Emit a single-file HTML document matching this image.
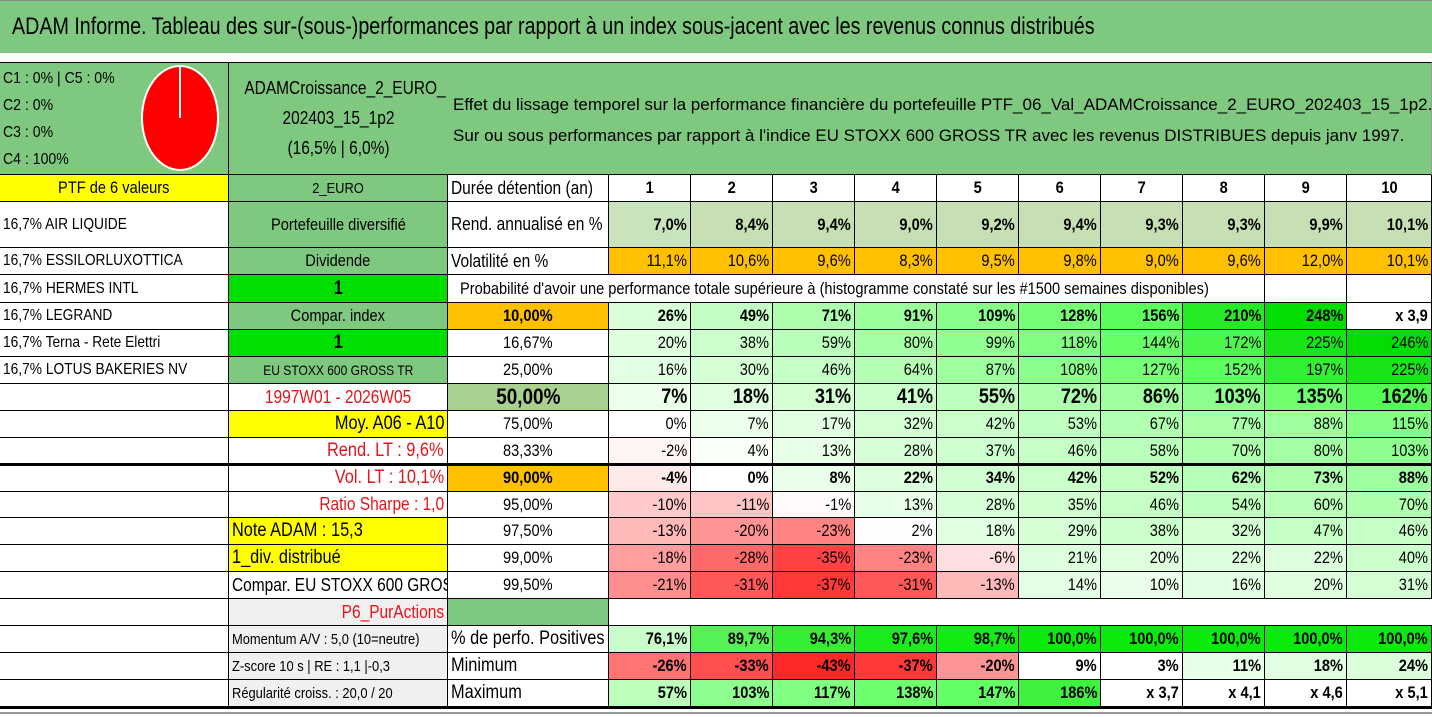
<!DOCTYPE html>
<html><head><meta charset="utf-8">
<style>
html,body{margin:0;padding:0;background:#fff;}
body{width:1432px;height:717px;position:relative;overflow:hidden;font-family:"Liberation Sans Narrow","Liberation Sans",sans-serif;color:#000;}
.c{position:absolute;box-sizing:border-box;border-right:1px solid #000;border-bottom:1px solid #000;display:flex;align-items:center;white-space:nowrap;overflow:hidden;font-size:17px;padding:0 3px;}
.r{justify-content:flex-end;}
.m{justify-content:center;}
.l{justify-content:flex-start;}
.b{font-weight:bold;}
.red{color:#e8141c;}
.s{display:inline-block;transform:scaleX(0.86);}
.r .s{transform-origin:right center;}
.m .s{transform-origin:center center;}
.l .s{transform-origin:left center;}
</style></head><body>
<div style="position:absolute;left:0;top:0;width:1432px;height:53px;background:#7fc87f;border-top:1px solid #888;box-sizing:border-box;display:flex;align-items:center;padding-left:12px;font-size:24px;">
<span style="display:inline-block;transform:scaleX(0.82);transform-origin:left center;">ADAM Informe. Tableau des sur-(sous-)performances par rapport à un index sous-jacent avec les revenus connus distribués</span></div>
<div style="position:absolute;left:0;top:62px;width:229px;height:113px;background:#7fc87f;border-top:1px solid #000;border-right:1px solid #000;border-bottom:1px solid #000;box-sizing:border-box;font-size:16px;line-height:27px;padding:2px 0 0 3px;">
<div style="transform:scaleX(0.88);transform-origin:left top;">C1 : 0% | C5 : 0%<br>C2 : 0%<br>C3 : 0%<br>C4 : 100%</div></div>
<svg style="position:absolute;left:140px;top:64px" width="80" height="110"><ellipse cx="40" cy="54" rx="38" ry="52" fill="#ff0000" stroke="#fff" stroke-width="2"/><line x1="40" y1="3" x2="40" y2="54" stroke="#fff" stroke-width="2"/></svg>
<div style="position:absolute;left:229px;top:62px;width:220px;height:113px;background:#7fc87f;border-top:1px solid #000;border-right:1px solid #000;border-bottom:1px solid #000;box-sizing:border-box;font-size:18px;line-height:30px;text-align:center;padding-top:10px;"><div style="transform:scaleX(0.86);">ADAMCroissance_2_EURO_<br>202403_15_1p2<br>(16,5% | 6,0%)</div></div>
<div style="position:absolute;left:448px;top:62px;width:984px;height:113px;background:#7fc87f;border-top:1px solid #000;border-bottom:1px solid #000;border-right:1px solid #999;box-sizing:border-box;font-size:17px;line-height:31px;padding:26px 0 0 5px;white-space:nowrap;">Effet du lissage temporel sur la performance financière du portefeuille PTF_06_Val_ADAMCroissance_2_EURO_202403_15_1p2.<br>Sur ou sous performances par rapport à l'indice EU STOXX 600 GROSS TR avec les revenus DISTRIBUES depuis janv 1997.</div>
<div id="grid"></div>
<div style="position:absolute;left:0;top:706px;width:1432px;height:3px;background:#000"></div>
<div style="position:absolute;left:0;top:712px;width:1432px;height:2px;background:#999"></div>
<script>
const years=[1,2,3,4,5,6,7,8,9,10];
const rend=[7.0,8.4,9.4,9.0,9.2,9.4,9.3,9.3,9.9,10.1];
const vol=[11.1,10.6,9.6,8.3,9.5,9.8,9.0,9.6,12.0,10.1];
const pctLabels=['10,00%','16,67%','25,00%','50,00%','75,00%','83,33%','90,00%','95,00%','97,50%','99,00%','99,50%'];
const p10=[26,49,71,91,109,128,156,210,248,290];
const p16=[20,38,59,80,99,118,144,172,225,246];
const p25=[16,30,46,64,87,108,127,152,197,225];
const p50=[7,18,31,41,55,72,86,103,135,162];
const p75=[0,7,17,32,42,53,67,77,88,115];
const p83=[-2,4,13,28,37,46,58,70,80,103];
const p90=[-4,0,8,22,34,42,52,62,73,88];
const p95=[-10,-11,-1,13,28,35,46,54,60,70];
const p975=[-13,-20,-23,2,18,29,38,32,47,46];
const p99=[-18,-28,-35,-23,-6,21,20,22,22,40];
const p995=[-21,-31,-37,-31,-13,14,10,16,20,31];
const positives=[76.1,89.7,94.3,97.6,98.7,100,100,100,100,100];
const minimum=[-26,-33,-43,-37,-20,9,3,11,18,24];
const maximum=[57,103,117,138,147,186,270,310,360,410];
const holdings=['16,7% AIR LIQUIDE','16,7% ESSILORLUXOTTICA','16,7% HERMES INTL','16,7% LEGRAND','16,7% Terna - Rete Elettri','16,7% LOTUS BAKERIES NV'];

const colX=[0,229,448,609,691,773,855,937,1019,1101,1183,1265,1347,1432];
const rowY=[175,202,248,275,303,330,357,384,411,438,465,492,518,545,572,599,626,653,680,707];
const grid=document.getElementById('grid');
function cell(ri,c0,c1,text,cls,bg,extra){
  const d=document.createElement('div');
  d.className='c '+(cls||'');
  d.style.left=colX[c0]+'px';d.style.top=rowY[ri]+'px';
  d.style.width=(colX[c1]-colX[c0])+'px';d.style.height=(rowY[ri+1]-rowY[ri])+'px';
  if(bg)d.style.background=bg;
  if(extra)Object.assign(d.style,extra);
  if(text!==''){
    const s=document.createElement('span');
    s.className='s';
    
    
    s.textContent=text;
    d.appendChild(s);
  }
  grid.appendChild(d);
  return d;
}
function mix(t,r,g,b){t=Math.max(0,Math.min(1,t));return 'rgb('+Math.round(255+(r-255)*t)+','+Math.round(255+(g-255)*t)+','+Math.round(255+(b-255)*t)+')';}
function perfColor(v){
  if(v>=260)return '#fff';
  if(v<0){const t=Math.min(1,-v/40);return 'rgb(255,'+Math.round(255-215*t)+','+Math.round(255-215*t)+')';}
  const t=Math.min(1,v/250);
  const g=Math.round(255-35*Math.max(0,t-0.6)/0.4);
  const rb=Math.round(255*(1-t)*0.95+(t<0.02?12:0));
  return 'rgb('+rb+','+g+','+rb+')';
}
function perfText(v){return v>=260?('x '+(1+v/100).toFixed(1).replace('.',',')):(v+'%');}
function fmt1(v){return v.toFixed(1).replace('.',',')+'%';}

const a0=cell(0,0,1,'PTF de 6 valeurs','m','#ffff00');


holdings.forEach((h,i)=>{
  const d=cell(1+i,0,1,h,'l','#fff',{fontSize:'16px'});
  
  
});
for(let ri=7;ri<19;ri++){
  const d=cell(ri,0,1,'','l','#fff');
  
  
}
const colB=[
 ['2_EURO','m','#7fc87f',{fontSize:'15px'}],
 ['Portefeuille diversifié','m','#7fc87f'],
 ['Dividende','m','#7fc87f'],
 ['1','m b','#00e000',{fontSize:'19px'}],
 ['Compar. index','m','#7fc87f'],
 ['1','m b','#00e000',{fontSize:'19px'}],
 ['EU STOXX 600 GROSS TR','m','#7fc87f',{fontSize:'14px'}],
 ['1997W01 - 2026W05','m red','#fff',{fontSize:'18px'}],
 ['Moy. A06 - A10','r','#ffff00',{fontSize:'19px'}],
 ['Rend. LT : 9,6%','r red','#fff',{fontSize:'19px'}],
 ['Vol. LT : 10,1%','r red','#fff',{fontSize:'19px'}],
 ['Ratio Sharpe : 1,0','r red','#fff',{fontSize:'18px'}],
 ['Note ADAM : 15,3','l','#ffff00',{fontSize:'19px'}],
 ['1_div. distribué','l','#ffff00',{fontSize:'19px'}],
 ['Compar. EU STOXX 600 GROSS TR','l','#fff',{fontSize:'18px'}],
 ['P6_PurActions','r red','#f0f0f0',{fontSize:'18px'}],
 ['Momentum A/V : 5,0 (10=neutre)','l','#f0f0f0',{fontSize:'15px'}],
 ['Z-score 10 s | RE : 1,1 |-0,3','l','#f0f0f0',{fontSize:'15px'}],
 ['Régularité croiss. : 20,0 / 20','l','#f0f0f0',{fontSize:'15px'}]
];
colB.forEach((c,i)=>{
  const d=cell(i,1,2,c[0],c[1],c[2],c[3]);
  
  
});
const h0=cell(0,2,3,'Durée détention (an)','l','#fff',{fontSize:'18px'});


years.forEach((y,i)=>{
  const d=cell(0,3+i,4+i,String(y),'m b','#fff');
  
  
});
const h1=cell(1,2,3,'Rend. annualisé en %','l','#fff',{fontSize:'18px'});


rend.forEach((v,i)=>{
  const d=cell(1,3+i,4+i,fmt1(v),'r b',i==0?'#c9e3bd':'#c6e0b4');
  
  
});
const h2=cell(2,2,3,'Volatilité en %','l','#fff',{fontSize:'18px'});


vol.forEach((v,i)=>{
  const d=cell(2,3+i,4+i,fmt1(v),'r','#ffc000');
  
  
});
const h3=cell(3,2,11,"Probabilité d'avoir une performance totale supérieure à (histogramme constaté sur les #1500 semaines disponibles)",'l','#fff',{paddingLeft:'12px'});


for(let k=11;k<13;k++){
  const d=cell(3,k,k+1,'','','#fff');
  
  
}
const pctRows=[p10,p16,p25,p50,p75,p83,p90,p95,p975,p99,p995];
const pctBg=['#ffc000','#fff','#fff','#a9d08e','#fff','#fff','#ffc000','#fff','#fff','#fff','#fff'];
const boldRows=[0,3,6];
pctRows.forEach((row,r)=>{
  const ri=4+r;
  const isB=boldRows.includes(r);
  const big=r==3?{fontSize:'22px'}:null;
  const lab=cell(ri,2,3,pctLabels[r],'m'+(isB?' b':''),pctBg[r],big);
  
  
  row.forEach((v,i)=>{
    const d=cell(ri,3+i,4+i,perfText(v),'r'+(isB?' b':''),perfColor(v),r==3?{fontSize:'21px'}:null);
    
    
  });
});
const p6=cell(15,2,3,'','','#7fc87f');


const p6w=cell(15,3,13,'','','#fff',{borderRight:'none'});


const sLabels=['% de perfo. Positives','Minimum','Maximum'];
const sRows=[positives,minimum,maximum];
sRows.forEach((row,r)=>{
  const ri=16+r;
  const lab=cell(ri,2,3,sLabels[r],'l','#fff',{fontSize:'19px'});
  
  
  row.forEach((v,i)=>{
    let bg,txt;
    if(r==0){const t=Math.max(0,(v-72)/28);bg=mix(Math.pow(t,0.8),10,235,10);txt=fmt1(v);}
    else if(r==1){bg=v<10&&v>=0?'#fff':perfColor(v);txt=v+'%';}
    else{bg=perfColor(v);txt=perfText(v);}
    const d=cell(ri,3+i,4+i,txt,'r b',bg);
    
    
  });
});
const tl=document.createElement('div');


Object.assign(tl.style,{position:'absolute',left:'0',top:'463px',width:'1432px',height:'3px',background:'#000'});
grid.appendChild(tl);
</script>
</body></html>
